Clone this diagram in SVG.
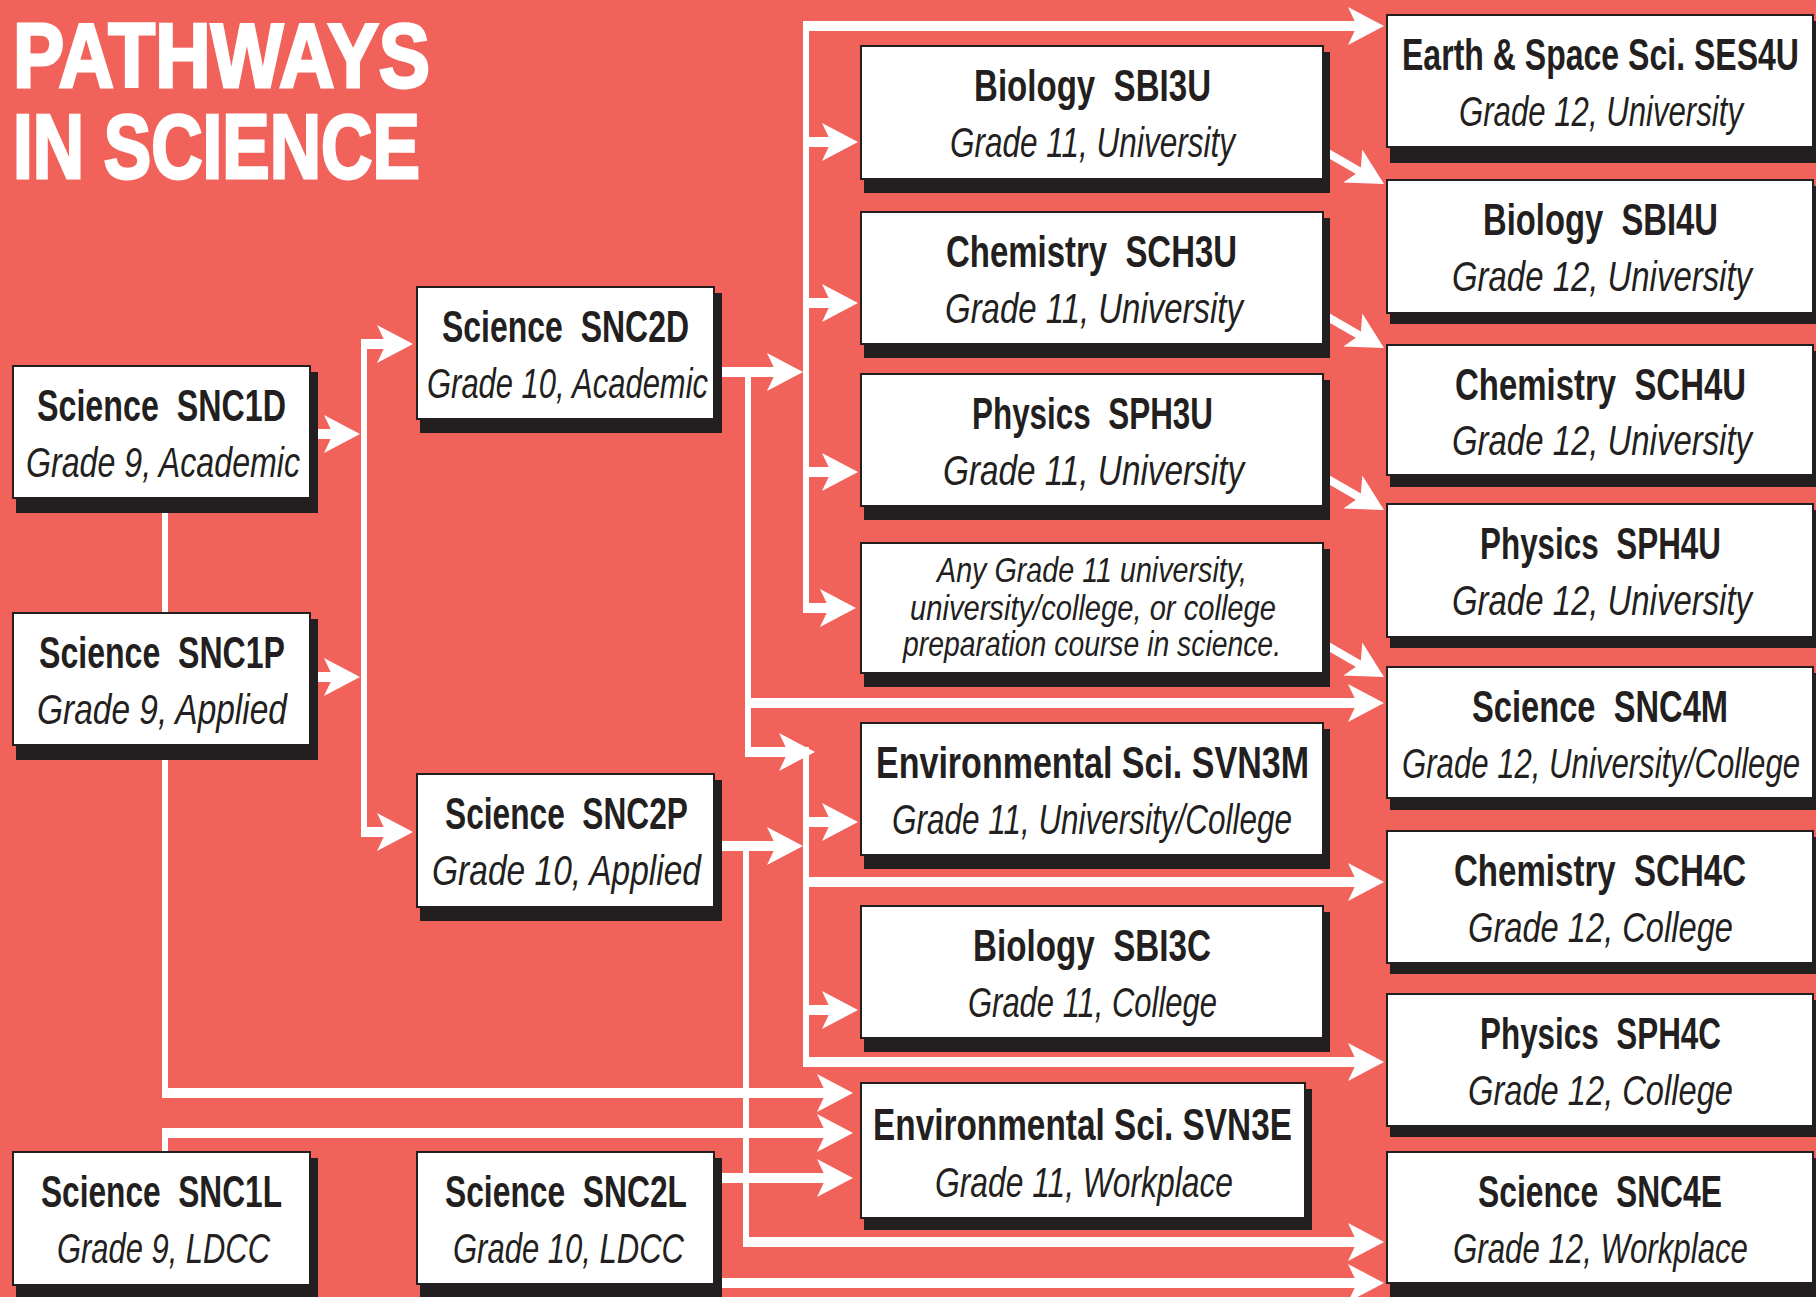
<svg xmlns="http://www.w3.org/2000/svg" xmlns:xlink="http://www.w3.org/1999/xlink" width="1816" height="1297" viewBox="0 0 1816 1297">
<style>
.bg{fill:#F0625A}
.sh{fill:#231F20}
.bx{fill:#FFFFFF;stroke:#231F20;stroke-width:2}
.t{font-family:"Liberation Sans",Arial,sans-serif;font-weight:bold;font-size:44px;fill:#231F20;white-space:pre}
.s{font-family:"Liberation Sans",Arial,sans-serif;font-style:italic;font-size:42px;fill:#231F20;white-space:pre}
.a{font-family:"Liberation Sans",Arial,sans-serif;font-style:italic;font-size:35px;fill:#231F20}
.ttl{font-family:"Liberation Sans",Arial,sans-serif;font-weight:bold;font-size:90px;fill:#FFFFFF;stroke:#FFFFFF;stroke-width:3}
.h{fill:none;stroke:#FFFFFF;stroke-width:10}
.v{fill:none;stroke:#FFFFFF;stroke-width:6}
.d{fill:none;stroke:#FFFFFF;stroke-width:8}
.ah{fill:#FFFFFF}
</style>
<defs>
<path id="ah" d="M0,0 L-36,-19 L-27,0 L-36,19 Z"/>
</defs>
<rect class="bg" x="0" y="0" width="1816" height="1297"/>
<g id="title">
<text class="ttl" transform="matrix(0.72 0 0 1 13 87)" textLength="579" lengthAdjust="spacingAndGlyphs">PATHWAYS</text>
<text class="ttl" transform="matrix(0.72 0 0 1 13 178)" textLength="565" lengthAdjust="spacingAndGlyphs">IN SCIENCE</text>
</g>
<g id="connectors">
<path class="v" d="M165,498 V1098 M165,1128 V1152 M364,339 V837 M748,367 V757 M806,21 V613 M746,841 V1247 M806,747 V1067"/>
<path class="h" d="M318,434 H345 M318,677 H345 M361,344 H398 M361,832 H398 M713,372 H788 M803,26 H1369 M806,142 H843 M806,303 H843 M806,472 H843 M803,608 H841 M748,703 H1369 M745,752 H800 M715,846 H788 M806,822 H843 M806,882 H1369 M806,1010 H843 M803,1062 H1369 M162,1093 H838 M162,1133 H838 M722,1178 H838 M743,1242 H1369 M722,1283 H1369"/>
<path class="d" d="M1326,152 L1371,178 M1326,316 L1371,342 M1326,478 L1371,504 M1326,645 L1371,671"/>
<g class="ah">
<use xlink:href="#ah" transform="translate(360,434)"/>
<use xlink:href="#ah" transform="translate(360,677)"/>
<use xlink:href="#ah" transform="translate(413,344)"/>
<use xlink:href="#ah" transform="translate(413,832)"/>
<use xlink:href="#ah" transform="translate(803,372)"/>
<use xlink:href="#ah" transform="translate(1384,26)"/>
<use xlink:href="#ah" transform="translate(858,142)"/>
<use xlink:href="#ah" transform="translate(858,303)"/>
<use xlink:href="#ah" transform="translate(858,472)"/>
<use xlink:href="#ah" transform="translate(856,608)"/>
<use xlink:href="#ah" transform="translate(1384,703)"/>
<use xlink:href="#ah" transform="translate(815,752)"/>
<use xlink:href="#ah" transform="translate(803,846)"/>
<use xlink:href="#ah" transform="translate(858,822)"/>
<use xlink:href="#ah" transform="translate(1384,882)"/>
<use xlink:href="#ah" transform="translate(858,1010)"/>
<use xlink:href="#ah" transform="translate(1384,1062)"/>
<use xlink:href="#ah" transform="translate(853,1093)"/>
<use xlink:href="#ah" transform="translate(853,1133)"/>
<use xlink:href="#ah" transform="translate(853,1178)"/>
<use xlink:href="#ah" transform="translate(1384,1242)"/>
<use xlink:href="#ah" transform="translate(1384,1283)"/>
<use xlink:href="#ah" transform="translate(1384,184) rotate(30)"/>
<use xlink:href="#ah" transform="translate(1384,348) rotate(30)"/>
<use xlink:href="#ah" transform="translate(1384,510) rotate(30)"/>
<use xlink:href="#ah" transform="translate(1384,677) rotate(30)"/>
</g>
</g>

<g id="snc1d"><rect class="sh" x="16" y="372" width="302" height="141"/><rect class="bx" x="13" y="366" width="297" height="132"/>
<text class="t" transform="matrix(0.72 0 0 1 37 421)" textLength="345.8" lengthAdjust="spacingAndGlyphs">Science  SNC1D</text>
<text class="s" transform="matrix(0.72 0 0 1 26 477)" textLength="380.6" lengthAdjust="spacingAndGlyphs">Grade 9, Academic</text></g>

<g id="snc1p"><rect class="sh" x="16" y="619" width="302" height="141"/><rect class="bx" x="13" y="613" width="297" height="132"/>
<text class="t" transform="matrix(0.72 0 0 1 39 668)" textLength="341.7" lengthAdjust="spacingAndGlyphs">Science  SNC1P</text>
<text class="s" transform="matrix(0.72 0 0 1 37 724)" textLength="347.2" lengthAdjust="spacingAndGlyphs">Grade 9, Applied</text></g>

<g id="snc1l"><rect class="sh" x="16" y="1158" width="302" height="141"/><rect class="bx" x="13" y="1152" width="297" height="133"/>
<text class="t" transform="matrix(0.72 0 0 1 41 1207)" textLength="334.7" lengthAdjust="spacingAndGlyphs">Science  SNC1L</text>
<text class="s" transform="matrix(0.72 0 0 1 57 1263)" textLength="295.8" lengthAdjust="spacingAndGlyphs">Grade 9, LDCC</text></g>

<g id="snc2d"><rect class="sh" x="420" y="293" width="302" height="140"/><rect class="bx" x="417" y="287" width="297" height="132"/>
<text class="t" transform="matrix(0.72 0 0 1 442 342)" textLength="343.1" lengthAdjust="spacingAndGlyphs">Science  SNC2D</text>
<text class="s" transform="matrix(0.72 0 0 1 427 398)" textLength="390.3" lengthAdjust="spacingAndGlyphs">Grade 10, Academic</text></g>

<g id="snc2p"><rect class="sh" x="420" y="780" width="302" height="141"/><rect class="bx" x="417" y="774" width="297" height="133"/>
<text class="t" transform="matrix(0.72 0 0 1 445 829)" textLength="337.5" lengthAdjust="spacingAndGlyphs">Science  SNC2P</text>
<text class="s" transform="matrix(0.72 0 0 1 432 885)" textLength="373.6" lengthAdjust="spacingAndGlyphs">Grade 10, Applied</text></g>

<g id="snc2l"><rect class="sh" x="420" y="1158" width="302" height="141"/><rect class="bx" x="417" y="1152" width="297" height="132"/>
<text class="t" transform="matrix(0.72 0 0 1 445 1207)" textLength="336.1" lengthAdjust="spacingAndGlyphs">Science  SNC2L</text>
<text class="s" transform="matrix(0.72 0 0 1 453 1263)" textLength="320.8" lengthAdjust="spacingAndGlyphs">Grade 10, LDCC</text></g>

<g id="sbi3u"><rect class="sh" x="864" y="52" width="466" height="141"/><rect class="bx" x="861" y="46" width="462" height="133"/>
<text class="t" transform="matrix(0.72 0 0 1 974 101)" textLength="329.2" lengthAdjust="spacingAndGlyphs">Biology  SBI3U</text>
<text class="s" transform="matrix(0.72 0 0 1 950 157)" textLength="395.8" lengthAdjust="spacingAndGlyphs">Grade 11, University</text></g>

<g id="sch3u"><rect class="sh" x="864" y="218" width="466" height="140"/><rect class="bx" x="861" y="212" width="462" height="132"/>
<text class="t" transform="matrix(0.72 0 0 1 946 267)" textLength="404.2" lengthAdjust="spacingAndGlyphs">Chemistry  SCH3U</text>
<text class="s" transform="matrix(0.72 0 0 1 945 323)" textLength="413.9" lengthAdjust="spacingAndGlyphs">Grade 11, University</text></g>

<g id="sph3u"><rect class="sh" x="864" y="380" width="466" height="140"/><rect class="bx" x="861" y="374" width="462" height="132"/>
<text class="t" transform="matrix(0.72 0 0 1 972 429)" textLength="334.7" lengthAdjust="spacingAndGlyphs">Physics  SPH3U</text>
<text class="s" transform="matrix(0.72 0 0 1 943 485)" textLength="418.1" lengthAdjust="spacingAndGlyphs">Grade 11, University</text></g>

<g id="any-grade-11"><rect class="sh" x="864" y="549" width="466" height="138"/><rect class="bx" x="861" y="543" width="462" height="130"/>
<text class="a" transform="matrix(0.72 0 0 1 937 582)" textLength="430.6" lengthAdjust="spacingAndGlyphs">Any Grade 11 university,</text>
<text class="a" transform="matrix(0.72 0 0 1 910 620)" textLength="508.3" lengthAdjust="spacingAndGlyphs">university/college, or college</text>
<text class="a" transform="matrix(0.72 0 0 1 903 656)" textLength="525" lengthAdjust="spacingAndGlyphs">preparation course in science.</text></g>

<g id="svn3m"><rect class="sh" x="864" y="729" width="466" height="140"/><rect class="bx" x="861" y="723" width="462" height="132"/>
<text class="t" transform="matrix(0.72 0 0 1 876 778)" textLength="601.4" lengthAdjust="spacingAndGlyphs">Environmental Sci. SVN3M</text>
<text class="s" transform="matrix(0.72 0 0 1 892 834)" textLength="555.6" lengthAdjust="spacingAndGlyphs">Grade 11, University/College</text></g>

<g id="sbi3c"><rect class="sh" x="864" y="912" width="466" height="140"/><rect class="bx" x="861" y="906" width="462" height="132"/>
<text class="t" transform="matrix(0.72 0 0 1 973 961)" textLength="330.6" lengthAdjust="spacingAndGlyphs">Biology  SBI3C</text>
<text class="s" transform="matrix(0.72 0 0 1 968 1017)" textLength="345.8" lengthAdjust="spacingAndGlyphs">Grade 11, College</text></g>

<g id="svn3e"><rect class="sh" x="864" y="1089" width="448" height="141"/><rect class="bx" x="861" y="1083" width="444" height="135"/>
<text class="t" transform="matrix(0.72 0 0 1 873 1140)" textLength="581.9" lengthAdjust="spacingAndGlyphs">Environmental Sci. SVN3E</text>
<text class="s" transform="matrix(0.72 0 0 1 935 1197)" textLength="413.9" lengthAdjust="spacingAndGlyphs">Grade 11, Workplace</text></g>

<g id="ses4u"><rect class="sh" x="1390" y="21" width="426" height="142"/><rect class="bx" x="1387" y="15" width="426" height="132"/>
<text class="t" transform="matrix(0.72 0 0 1 1402 70)" textLength="551.4" lengthAdjust="spacingAndGlyphs">Earth &amp; Space Sci. SES4U</text>
<text class="s" transform="matrix(0.72 0 0 1 1459 126)" textLength="394.4" lengthAdjust="spacingAndGlyphs">Grade 12, University</text></g>

<g id="sbi4u"><rect class="sh" x="1390" y="186" width="426" height="138"/><rect class="bx" x="1387" y="180" width="426" height="133"/>
<text class="t" transform="matrix(0.72 0 0 1 1483 235)" textLength="326.4" lengthAdjust="spacingAndGlyphs">Biology  SBI4U</text>
<text class="s" transform="matrix(0.72 0 0 1 1452 291)" textLength="416.7" lengthAdjust="spacingAndGlyphs">Grade 12, University</text></g>

<g id="sch4u"><rect class="sh" x="1390" y="351" width="426" height="136"/><rect class="bx" x="1387" y="345" width="426" height="130"/>
<text class="t" transform="matrix(0.72 0 0 1 1455 400)" textLength="404.2" lengthAdjust="spacingAndGlyphs">Chemistry  SCH4U</text>
<text class="s" transform="matrix(0.72 0 0 1 1452 455)" textLength="416.7" lengthAdjust="spacingAndGlyphs">Grade 12, University</text></g>

<g id="sph4u"><rect class="sh" x="1390" y="510" width="426" height="138"/><rect class="bx" x="1387" y="504" width="426" height="133"/>
<text class="t" transform="matrix(0.72 0 0 1 1480 559)" textLength="334.7" lengthAdjust="spacingAndGlyphs">Physics  SPH4U</text>
<text class="s" transform="matrix(0.72 0 0 1 1452 615)" textLength="416.7" lengthAdjust="spacingAndGlyphs">Grade 12, University</text></g>

<g id="snc4m"><rect class="sh" x="1390" y="673" width="426" height="137"/><rect class="bx" x="1387" y="667" width="426" height="131"/>
<text class="t" transform="matrix(0.72 0 0 1 1472 722)" textLength="355.6" lengthAdjust="spacingAndGlyphs">Science  SNC4M</text>
<text class="s" transform="matrix(0.72 0 0 1 1402 778)" textLength="552.8" lengthAdjust="spacingAndGlyphs">Grade 12, University/College</text></g>

<g id="sch4c"><rect class="sh" x="1390" y="837" width="426" height="137"/><rect class="bx" x="1387" y="831" width="426" height="132"/>
<text class="t" transform="matrix(0.72 0 0 1 1454 886)" textLength="405.6" lengthAdjust="spacingAndGlyphs">Chemistry  SCH4C</text>
<text class="s" transform="matrix(0.72 0 0 1 1468 942)" textLength="368.1" lengthAdjust="spacingAndGlyphs">Grade 12, College</text></g>

<g id="sph4c"><rect class="sh" x="1390" y="1000" width="426" height="137"/><rect class="bx" x="1387" y="994" width="426" height="132"/>
<text class="t" transform="matrix(0.72 0 0 1 1480 1049)" textLength="334.7" lengthAdjust="spacingAndGlyphs">Physics  SPH4C</text>
<text class="s" transform="matrix(0.72 0 0 1 1468 1105)" textLength="368.1" lengthAdjust="spacingAndGlyphs">Grade 12, College</text></g>

<g id="snc4e"><rect class="sh" x="1390" y="1158" width="426" height="139"/><rect class="bx" x="1387" y="1152" width="426" height="131"/>
<text class="t" transform="matrix(0.72 0 0 1 1478 1207)" textLength="338.9" lengthAdjust="spacingAndGlyphs">Science  SNC4E</text>
<text class="s" transform="matrix(0.72 0 0 1 1453 1263)" textLength="409.7" lengthAdjust="spacingAndGlyphs">Grade 12, Workplace</text></g>
</svg>
